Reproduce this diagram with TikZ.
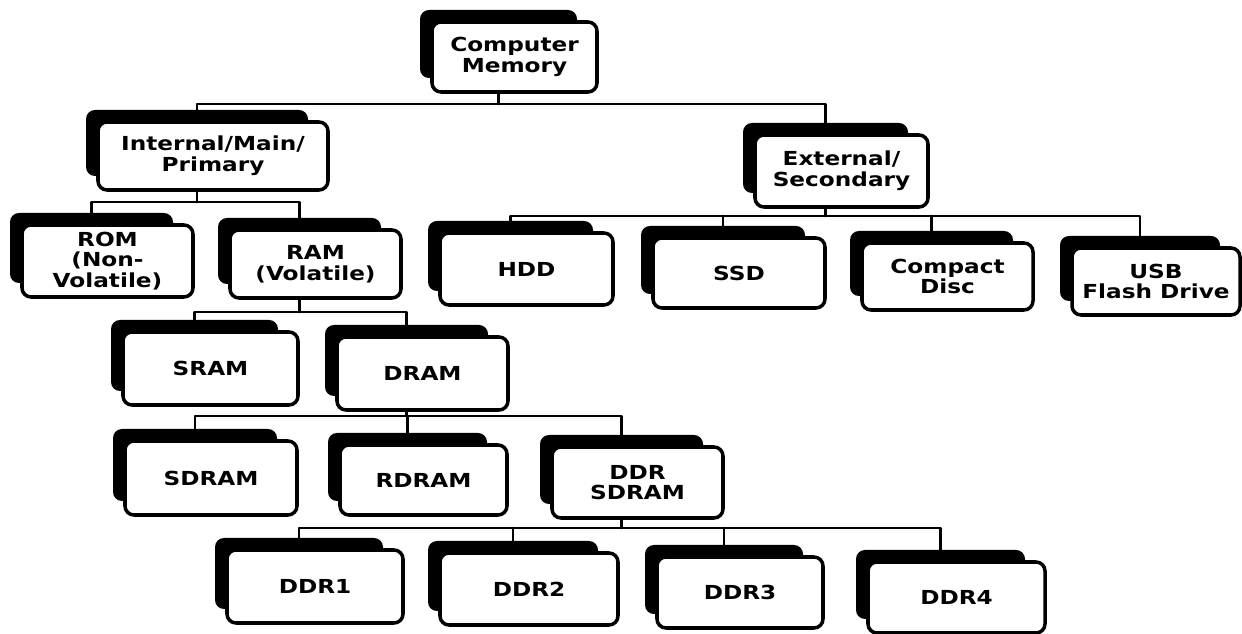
\documentclass[tikz,border=0pt]{standalone}
\usepackage{fontspec}
\newfontfamily\boxfont{DejaVu Sans}[FakeStretch=1.2]
\usetikzlibrary{backgrounds}
\tikzset{
  card/.style={draw=black, fill=white, line width=2pt, rounded corners=0.18cm,
    align=center, inner sep=0pt,
    font=\boxfont\bfseries\fontsize{11}{11.8}\selectfont},
  cardshadow/.style={fill=black, rounded corners=0.18cm, inner sep=0pt},
  conn/.style={line width=1.6pt, line cap=round, line join=round}
}
% name, cx, cy, w, h, text  (pixel units, y downwards)
\newcommand\memcard[6]{%
  \node[cardshadow, minimum width={(#4-8)*0.02cm}, minimum height={(#5-2)*0.02cm}] (#1-s) at (#2-16,#3-13) {};
  \node[card, minimum width={#4*0.02cm}, minimum height={#5*0.02cm}] (#1) at (#2,#3) {#6};
}
\begin{document}
\begin{tikzpicture}[x=0.02cm, y=-0.02cm]
\useasboundingbox (0,0) rectangle (1242,634);
% level 0
\memcard{cm}{514.5}{57}{165}{70}{Computer\\Memory}
% level 1
\memcard{int}{213}{156}{230}{68}{Internal/Main/\\Primary}
\memcard{ext}{841.5}{171}{173}{72}{External/\\Secondary}
% level 2
\memcard{rom}{107.5}{261}{171}{72}{ROM\\(Non-\\Volatile)}
\memcard{ram}{315.5}{264}{171}{68}{RAM\\(Volatile)}
\memcard{hdd}{526.5}{269}{173}{72}{HDD}
\memcard{ssd}{739}{273}{172}{70}{SSD}
\memcard{cd}{947.5}{276.5}{171}{67}{Compact\\Disc}
\memcard{usb}{1156}{281.5}{168}{67}{USB\\Flash Drive}
% level 3
\memcard{sram}{210.5}{368.5}{175}{73}{SRAM}
\memcard{dram}{422.5}{373.5}{171}{73}{DRAM}
% level 4
\memcard{sdram}{211}{478}{172}{74}{SDRAM}
\memcard{rdram}{423.5}{480}{167}{70}{RDRAM}
\memcard{ddrs}{637.5}{482.5}{171}{71}{DDR\\SDRAM}
% level 5
\memcard{ddr1}{315}{586.5}{176}{73}{DDR1}
\memcard{ddr2}{529}{589}{178}{72}{DDR2}
\memcard{ddr3}{740}{592.5}{166}{71}{DDR3}
\memcard{ddr4}{956.5}{597.5}{177}{71}{DDR4}
% bus levels
\coordinate (cmbus) at (0,104);
\coordinate (intbus) at (0,202);
\coordinate (extbus) at (0,216);
\coordinate (rambus) at (0,312);
\coordinate (drambus) at (0,416);
\coordinate (ddrbus) at (0,528);
\begin{pgfonlayer}{background}
  \fill[white] (0,0) rectangle (1242,634);
  % Computer Memory
  \draw[conn] (cm-s.south) -- (cm-s.south |- cmbus);
  \draw[conn] (int-s.north) |- (ext-s.north |- cmbus) -- (ext-s.north);
  % Internal
  \draw[conn] (int-s.south) -- (int-s.south |- intbus);
  \draw[conn] (rom-s.north) |- (ram-s.north |- intbus) -- (ram-s.north);
  % External
  \draw[conn] (ext-s.south) -- (ext-s.south |- extbus);
  \draw[conn] (hdd-s.north) |- (usb-s.north |- extbus) -- (usb-s.north);
  \draw[conn] (ssd-s.north |- extbus) -- (ssd-s.north);
  \draw[conn] (cd-s.north |- extbus) -- (cd-s.north);
  % RAM
  \draw[conn] (ram-s.south) -- (ram-s.south |- rambus);
  \draw[conn] (sram-s.north) |- (dram-s.north |- rambus) -- (dram-s.north);
  % DRAM
  \draw[conn] (dram-s.south) -- (dram-s.south |- drambus);
  \draw[conn] (sdram-s.north) |- (ddrs-s.north |- drambus) -- (ddrs-s.north);
  \draw[conn] (rdram-s.north |- drambus) -- (rdram-s.north);
  % DDR SDRAM
  \draw[conn] (ddrs-s.south) -- (ddrs-s.south |- ddrbus);
  \draw[conn] (ddr1-s.north) |- (ddr4-s.north |- ddrbus) -- (ddr4-s.north);
  \draw[conn] (ddr2-s.north |- ddrbus) -- (ddr2-s.north);
  \draw[conn] (ddr3-s.north |- ddrbus) -- (ddr3-s.north);
\end{pgfonlayer}
\end{tikzpicture}
\end{document}
